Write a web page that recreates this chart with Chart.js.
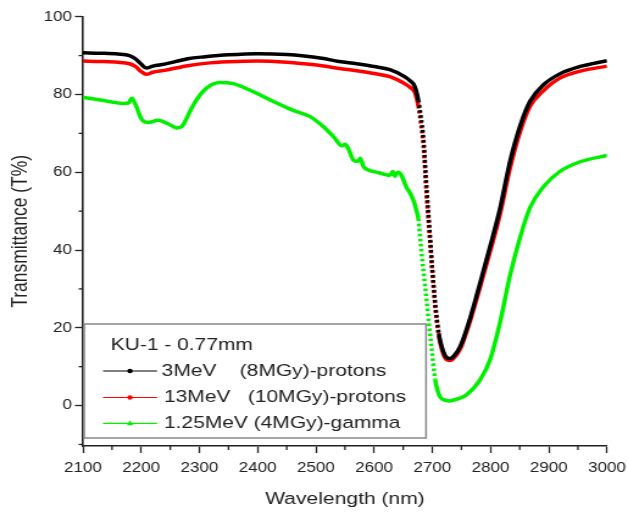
<!DOCTYPE html>
<html>
<head>
<meta charset="utf-8">
<script src="https://cdn.jsdelivr.net/npm/chart.js@4.4.1/dist/chart.umd.min.js"></script>
<style>
  html, body { margin: 0; padding: 0; background: #fff; overflow: hidden; }
  /* the original figure is stretched sideways, so we draw narrow and stretch */
  #wrap { width: 515px; height: 513px; transform: scaleX(1.2194); transform-origin: 0 0; }
</style>
</head>
<body>
<div id="wrap"><canvas id="grafico"></canvas></div>
<script>
// wavelength (nm) / transmittance (%)
const wlBlack = [2100, 2130, 2160, 2180, 2190, 2200, 2209, 2220, 2240, 2260, 2280, 2310, 2350, 2400, 2450, 2480, 2510, 2540, 2570, 2600, 2627, 2650, 2662, 2670, 2676, 2680, 2685, 2690, 2695, 2700, 2705, 2711, 2716, 2722, 2726, 2730, 2736, 2748, 2765, 2782, 2799, 2816, 2833, 2851, 2868, 2891, 2919, 2954, 3000];
const tBlack = [90.7, 90.6, 90.4, 90.0, 89.2, 87.8, 86.8, 87.3, 87.8, 88.5, 89.2, 89.7, 90.2, 90.5, 90.3, 89.9, 89.3, 88.5, 87.9, 87.2, 86.4, 84.8, 83.5, 82.0, 78.5, 74.5, 68.0, 56.0, 45.5, 35.0, 26.0, 18.6, 15.2, 12.8, 12.2, 12.1, 12.6, 15.2, 22.5, 31.5, 40.8, 50.5, 62.5, 72.0, 78.3, 82.5, 85.3, 87.2, 88.7];

const wlRed = [2100, 2130, 2160, 2180, 2190, 2200, 2209, 2220, 2240, 2260, 2280, 2310, 2350, 2400, 2450, 2480, 2510, 2540, 2570, 2600, 2627, 2650, 2662, 2670, 2676, 2680, 2685, 2690, 2695, 2700, 2705, 2711, 2716, 2722, 2726, 2730, 2736, 2748, 2765, 2782, 2799, 2816, 2833, 2851, 2868, 2891, 2919, 2954, 3000];
const tRed = [88.6, 88.5, 88.3, 87.9, 87.2, 85.9, 85.2, 85.7, 86.2, 86.8, 87.4, 88.0, 88.4, 88.6, 88.3, 87.9, 87.4, 86.7, 86.1, 85.4, 84.6, 83.0, 81.8, 80.5, 77.0, 73.0, 66.5, 54.5, 44.5, 34.5, 25.5, 18.0, 14.6, 12.2, 11.7, 11.6, 12.1, 14.6, 21.8, 30.5, 39.5, 49.0, 60.8, 70.5, 77.0, 81.0, 84.2, 86.0, 87.3];

const wlGreen = [2100, 2130, 2169, 2178, 2184, 2190, 2201, 2212, 2229, 2247, 2261, 2268, 2272, 2285, 2295, 2312, 2335, 2358, 2393, 2427, 2461, 2490, 2513, 2530, 2545, 2550, 2556, 2564, 2572, 2576, 2582, 2590, 2610, 2620, 2627, 2632, 2636, 2641, 2647, 2655, 2662, 2668, 2672, 2676, 2681, 2687, 2693, 2699, 2705, 2713, 2722, 2730, 2745, 2759, 2782, 2799, 2816, 2833, 2851, 2868, 2891, 2919, 2954, 3000];
const tGreen = [79.2, 78.6, 77.7, 77.8, 79.0, 77.5, 73.6, 72.8, 73.4, 72.4, 71.4, 71.6, 72.2, 76.0, 78.6, 81.6, 83.1, 82.8, 80.7, 78.2, 75.9, 74.3, 71.7, 69.2, 66.8, 67.2, 66.0, 63.2, 62.8, 63.6, 61.4, 60.6, 59.8, 59.4, 59.2, 60.2, 59.0, 60.0, 59.2, 56.3, 54.6, 52.6, 50.5, 48.0, 40.0, 31.5, 22.9, 14.3, 6.6, 2.3, 1.4, 1.2, 1.8, 2.8, 6.6, 11.7, 21.2, 33.2, 43.4, 51.0, 56.3, 60.2, 62.7, 64.3];

const xTicks = [2100, 2200, 2300, 2400, 2500, 2600, 2700, 2800, 2900, 3000];
const xMinorTicks = [2150, 2250, 2350, 2450, 2550, 2650, 2750, 2850, 2950];
const yTicks = [0, 20, 40, 60, 80, 100];
const yMinorTicks = [-10, 10, 30, 50, 70, 90];

const legendTitle = 'KU-1 - 0.77mm';
const seriesNames = ['3MeV    (8MGy)-protons', '13MeV   (10MGy)-protons', '1.25MeV (4MGy)-gamma'];
const seriesColors = ['#000000', '#ff0000', '#00f000'];

const fonte = '"Liberation Sans", Arial, sans-serif';
const corTexto = '#222';

const toPoints = (xs, ys) => xs.map((x, i) => ({ x: x, y: ys[i] }));

// steep segments look dotted in the original
const steepDash = (ctx) => {
  const dx = Math.abs(ctx.p1.x - ctx.p0.x);
  const dy = Math.abs(ctx.p1.y - ctx.p0.y);
  return dy > 6 * dx ? [2.5, 2.5] : undefined;
};

const makeDataset = (i, xs, ys) => ({
  label: seriesNames[i],
  data: toPoints(xs, ys),
  borderColor: seriesColors[i],
  backgroundColor: seriesColors[i],
  borderWidth: 3.5,
  pointRadius: 0,
  cubicInterpolationMode: 'monotone',
  segment: { borderDash: steepDash }
});

// minor ticks + boxed legend inside the plot
const extrasPlugin = {
  id: 'extras',
  afterDraw(chart) {
    const ctx = chart.ctx;
    const a = chart.chartArea;
    const xs = chart.scales.x;
    const ys = chart.scales.y;
    ctx.save();
    ctx.strokeStyle = corTexto;
    ctx.lineWidth = 1.3;
    xMinorTicks.forEach(v => {
      const px = xs.getPixelForValue(v);
      ctx.beginPath();
      ctx.moveTo(px, a.bottom);
      ctx.lineTo(px, a.bottom + 4);
      ctx.stroke();
    });
    yMinorTicks.forEach(v => {
      const py = ys.getPixelForValue(v);
      ctx.beginPath();
      ctx.moveTo(a.left, py);
      ctx.lineTo(a.left - 3.5, py);
      ctx.stroke();
    });

    // legend box
    const bx = a.left + 1, by = 324, bw = 349.4 - bx, bh = 438 - by;
    ctx.fillStyle = '#fff';
    ctx.fillRect(bx, by, bw, bh);
    ctx.strokeStyle = '#888';
    ctx.lineWidth = 1.5;
    ctx.strokeRect(bx, by, bw, bh);

    ctx.font = '17.2px ' + fonte;
    ctx.fillStyle = corTexto;
    ctx.textBaseline = 'middle';
    ctx.textAlign = 'left';
    ctx.fillText(legendTitle, 90.8, 345.5);

    const rows = [371, 397.5, 423.3];
    for (let i = 0; i < seriesNames.length; i++) {
      const y = rows[i];
      ctx.strokeStyle = seriesColors[i];
      ctx.fillStyle = seriesColors[i];
      ctx.lineWidth = 1.2;
      ctx.beginPath();
      ctx.moveTo(84.5, y);
      ctx.lineTo(128.8, y);
      ctx.stroke();
      ctx.beginPath();
      if (i < 2) {
        ctx.arc(106.6, y, 2.2, 0, Math.PI * 2);
      } else {
        ctx.moveTo(106.6, y - 3);
        ctx.lineTo(109.2, y + 2);
        ctx.lineTo(104, y + 2);
        ctx.closePath();
      }
      ctx.fill();
      ctx.fillStyle = corTexto;
      ctx.fillText(seriesNames[i], i == 0 ? 132.6 : 134.5, y);
    }
    ctx.restore();
  }
};

var grafico = new Chart(document.getElementById('grafico'), {
  type: 'line',
  data: {
    datasets: [
      makeDataset(0, wlBlack, tBlack),
      makeDataset(1, wlRed, tRed),
      makeDataset(2, wlGreen, tGreen)
    ]
  },
  options: {
    responsive: true,
    maintainAspectRatio: false,
    animation: false,
    layout: { padding: { top: 16.7, right: 17.2, bottom: 0, left: 0 } },
    plugins: {
      legend: { display: false },
      tooltip: { enabled: false }
    },
    scales: {
      x: {
        type: 'linear',
        min: 2100,
        max: 3000,
        afterBuildTicks: (s) => { s.ticks = xTicks.map(v => ({ value: v })); },
        afterFit: (s) => {
          s.height = 67;
          // let the layout padding alone decide the plot edges
          s.paddingLeft = 0;
          s.paddingRight = 0;
        },
        ticks: {
          font: { family: fonte, size: 14 },
          color: corTexto,
          padding: 7,
          maxRotation: 0,
          callback: (v) => String(v)
        },
        grid: { drawOnChartArea: false, tickLength: 7, tickColor: corTexto, tickWidth: 1.3 },
        border: { color: corTexto, width: 1.6 },
        title: {
          display: true,
          text: 'Wavelength (nm)',
          color: corTexto,
          font: { family: fonte, size: 17.3 },
          padding: { top: 0, bottom: 3.5 }
        }
      },
      y: {
        min: -10.4,
        max: 100,
        afterBuildTicks: (s) => { s.ticks = yTicks.map(v => ({ value: v })); },
        afterFit: (s) => { s.width = 68; },
        ticks: {
          font: { family: fonte, size: 14 },
          color: corTexto,
          padding: 2.5,
          callback: (v) => String(v)
        },
        grid: { drawOnChartArea: false, tickLength: 6.5, tickColor: corTexto, tickWidth: 1.3 },
        border: { color: corTexto, width: 1.6 },
        title: {
          display: true,
          text: 'Transmittance (T%)',
          color: corTexto,
          font: { family: fonte, size: 17.5 },
          padding: { top: 6.3, bottom: 0 }
        }
      }
    }
  },
  plugins: [extrasPlugin]
});
</script>
</body>
</html>
